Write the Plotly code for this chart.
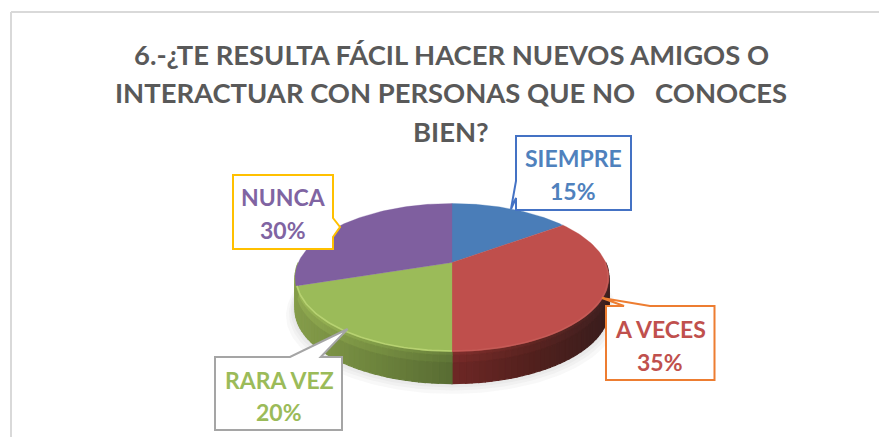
import numpy as np
import plotly.graph_objects as go

categories = ["SIEMPRE", "A VECES", "RARA VEZ", "NUNCA"]
values = [15, 35, 20, 30]
top_colors = ["#4a7db8", "#bf4f4c", "#9bbb59", "#7f5f9f"]
label_colors = ["#4f81bd", "#c0504d", "#9bbb59", "#8064a2"]
border_colors = ["#4472c4", "#ed7d31", "#a5a5a5", "#ffc000"]
title_lines = ["6.-¿TE RESULTA FÁCIL HACER NUEVOS AMIGOS O",
               "INTERACTUAR CON PERSONAS QUE NO   CONOCES",
               "BIEN?"]

W, H = 879, 437
CX, CY, B, A, P, DEPTH = 452.0, 262.5, 153.7, 71.0, 0.2027, 32.0


def project(theta_deg, scale=1.0):
    t = np.radians(np.asarray(theta_deg, dtype=float))
    x, y = np.sin(t) * scale, np.cos(t) * scale
    d = 1 + P * y
    return CX + B * x / d, CY - A * y / d


def rgb(c):
    return "rgb(%d,%d,%d)" % tuple(int(round(v)) for v in c)


def lerp(a, b, t):
    return [u + (v - u) * t for u, v in zip(a, b)]


fig = go.Figure()


def poly(xs, ys, color, line=0.6, opacity=1.0):
    fig.add_trace(go.Scatter(x=list(xs), y=list(ys), mode="lines", fill="toself",
                             fillcolor=color, opacity=opacity,
                             line=dict(color=color, width=line),
                             hoverinfo="skip", showlegend=False))


# Soft shadow below the pie
all_t = np.linspace(0, 360, 181)
for grow, off in [(9, 10), (6, 8), (4, 6), (2, 4)]:
    ex, ey = project(all_t)
    mx, my = ex.mean(), (ey.max() + ey.min()) / 2
    poly(mx + (ex - mx) * (1 + grow / 157), my + (ey - my) * (1 + grow / 157) + DEPTH + off - 4,
         "rgb(120,120,120)", line=0, opacity=0.05)

# Slice angular ranges come from the values
total = sum(values)
edges = np.cumsum([0] + values) / total * 360

# Side wall, shaded along its length and down its depth
side_ramps = {
    1: ((112, 40, 38), (84, 33, 30), (58, 30, 30)),
    2: ((90, 110, 52), (112, 135, 62), (136, 160, 76)),
    3: ((136, 160, 76), (136, 160, 76), (136, 160, 76)),
}
bands = [(0.0, 0.12, 1.15), (0.12, 0.35, 1.06), (0.35, 1.0, 0.98)]
step = 2.0
for i in (1, 2, 3):
    a0, a1 = max(edges[i], 90), min(edges[i + 1], 270)
    if a1 <= a0:
        continue
    n = max(1, int(round((a1 - a0) / step)))
    th = np.linspace(a0, a1, n + 1)
    ramp = side_ramps[i]
    for j in range(n):
        x0, y0 = project(th[j])
        x1, y1 = project(th[j + 1])
        u = min(abs((x0 + x1) / 2 - CX) / 157, 1)
        base = lerp(ramp[0], ramp[1], u * 2) if u < 0.5 else lerp(ramp[1], ramp[2], u * 2 - 1)
        for d0, d1, k in bands:
            poly([x0, x1, x1, x0, x0],
                 [y0 + d0 * DEPTH, y1 + d0 * DEPTH, y1 + d1 * DEPTH, y0 + d1 * DEPTH, y0 + d0 * DEPTH],
                 rgb([min(255, v * k) for v in base]), line=1.2)

# Top face slices
for i, c in enumerate(top_colors):
    th = np.linspace(edges[i], edges[i + 1], 80)
    ex, ey = project(th)
    poly(np.r_[CX, ex, CX], np.r_[CY, ey, CY], c, line=0.3)

# Bright rim on the front of the top face
rim_colors = {1: "#c9605b", 2: "#c3dc7c"}
for i, c in rim_colors.items():
    th = np.linspace(max(edges[i], 90), min(edges[i + 1], 272), 60)
    ex, ey = project(th, 0.995)
    fig.add_trace(go.Scatter(x=ex, y=ey, mode="lines", line=dict(color=c, width=1.6),
                             opacity=0.7, hoverinfo="skip", showlegend=False))

# Callouts: box outline with pointer tail
callouts = [
    "M516,136 L631,136 L631,210 L516,210 L516,198 L511,209 L516,181 Z",
    "M606,306 L624,306 L602,298 L650,306 L714.5,306 L714.5,380 L606,380 Z",
    "M215,357 L290,357 L347.6,329 L320.7,357 L342,357 L342,430 L215,430 Z",
    "M233,175 L333,175 L333,218 L340,227 L333,237 L333,249 L233,249 Z",
]
shapes = [dict(type="path", path=p, xref="x", yref="y", fillcolor="white",
               line=dict(color=c, width=2), layer="above")
          for p, c in zip(callouts, border_colors)]
# Chart frame
shapes += [
    dict(type="line", xref="x", yref="y", x0=11, x1=879, y0=12, y1=12,
         line=dict(color="#d9d9d9", width=2), layer="below"),
    dict(type="line", xref="x", yref="y", x0=11, x1=11, y0=12, y1=437,
         line=dict(color="#d9d9d9", width=2), layer="below"),
]

FONT = "Lato, Carlito, Calibri, sans-serif"
ann = []
for txt, y in zip(title_lines, [54, 92, 131]):
    ann.append(dict(x=451, y=y, text="<b>%s</b>" % txt, showarrow=False, xref="x", yref="y",
                    font=dict(family=FONT, size=27.4, color="#595959")))
label_pos = [(573, 158, 191), (660, 329, 362), (279, 380, 412), (283, 197, 230)]
for name, v, col, (x, y1, y2) in zip(categories, values, label_colors, label_pos):
    ann.append(dict(x=x, y=y1, text="<b>%s</b>" % name, showarrow=False, xref="x", yref="y",
                    font=dict(family=FONT, size=23, color=col)))
    ann.append(dict(x=x, y=y2, text="<b>%d%%</b>" % v, showarrow=False, xref="x", yref="y",
                    font=dict(family=FONT, size=23, color=col)))

fig.update_layout(
    width=W, height=H, margin=dict(l=0, r=0, t=0, b=0),
    paper_bgcolor="white", plot_bgcolor="white", showlegend=False,
    xaxis=dict(range=[0, W], visible=False, fixedrange=True),
    yaxis=dict(range=[H, 0], visible=False, fixedrange=True),
    shapes=shapes, annotations=ann,
)
fig.write_html("out.html", config={"displayModeBar": False},
               post_script="document.body.style.margin='0';document.documentElement.style.overflow='hidden';")
